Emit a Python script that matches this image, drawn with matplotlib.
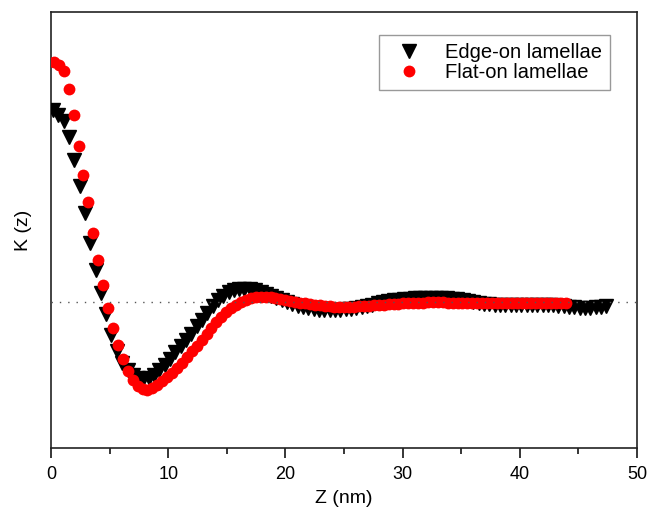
import matplotlib.pyplot as plt

plt.rcParams['font.family'] = ['Liberation Sans', 'DejaVu Sans']

# Edge-on lamellae (black triangles)
edge_z = [0.17, 0.62, 1.08, 1.53, 1.99, 2.44, 2.89, 3.35, 3.80, 4.26,
          4.71, 5.16, 5.62, 6.07, 6.53, 6.98, 7.43, 7.89, 8.34, 8.80,
          9.25, 9.70, 10.16, 10.61, 11.07, 11.52, 11.97, 12.43, 12.88, 13.34,
          13.79, 14.24, 14.70, 15.15, 15.61, 16.06, 16.51, 16.97, 17.42, 17.88,
          18.33, 18.78, 19.24, 19.69, 20.15, 20.60, 21.05, 21.51, 21.96, 22.42,
          22.87, 23.32, 23.78, 24.23, 24.69, 25.14, 25.59, 26.05, 26.50, 26.96,
          27.41, 27.86, 28.32, 28.77, 29.23, 29.68, 30.13, 30.59, 31.04, 31.50,
          31.95, 32.40, 32.86, 33.31, 33.77, 34.22, 34.67, 35.13, 35.58, 36.04,
          36.49, 36.94, 37.40, 37.85, 38.31, 38.76, 39.21, 39.67, 40.12, 40.58,
          41.03, 41.48, 41.94, 42.39, 42.85, 43.30, 43.75, 44.21, 44.66, 45.12,
          45.57, 46.02, 46.48, 46.93, 47.39]
edge_k = [1.927, 1.877, 1.817, 1.657, 1.427, 1.167, 0.897, 0.597, 0.327, 0.097,
          -0.113, -0.323, -0.493, -0.613, -0.683, -0.733, -0.763, -0.773, -0.763, -0.733,
          -0.683, -0.633, -0.573, -0.503, -0.433, -0.373, -0.313, -0.233, -0.173, -0.103,
          -0.033, 0.027, 0.067, 0.102, 0.122, 0.132, 0.137, 0.132, 0.122, 0.107,
          0.087, 0.067, 0.042, 0.022, 0.002, -0.018, -0.033, -0.048, -0.058, -0.068,
          -0.073, -0.078, -0.078, -0.078, -0.073, -0.068, -0.063, -0.053, -0.043, -0.033,
          -0.023, -0.008, 0.002, 0.012, 0.022, 0.027, 0.032, 0.037, 0.042, 0.047,
          0.047, 0.047, 0.047, 0.047, 0.042, 0.037, 0.032, 0.027, 0.017, 0.007,
          -0.003, -0.013, -0.018, -0.023, -0.023, -0.023, -0.023, -0.023, -0.023, -0.023,
          -0.023, -0.023, -0.023, -0.023, -0.028, -0.033, -0.038, -0.043, -0.048, -0.053,
          -0.053, -0.053, -0.048, -0.043, -0.033]

# Flat-on lamellae (red circles)
flat_z = [0.25, 0.67, 1.09, 1.51, 1.93, 2.35, 2.77, 3.19, 3.61, 4.03,
          4.45, 4.87, 5.29, 5.71, 6.13, 6.55, 6.97, 7.39, 7.81, 8.23,
          8.65, 9.07, 9.49, 9.91, 10.33, 10.75, 11.17, 11.59, 12.01, 12.43,
          12.85, 13.27, 13.69, 14.11, 14.53, 14.95, 15.37, 15.79, 16.21, 16.63,
          17.05, 17.47, 17.89, 18.31, 18.73, 19.15, 19.57, 19.99, 20.41, 20.83,
          21.25, 21.67, 22.09, 22.51, 22.93, 23.35, 23.77, 24.19, 24.61, 25.03,
          25.45, 25.87, 26.29, 26.71, 27.13, 27.55, 27.97, 28.39, 28.81, 29.23,
          29.65, 30.07, 30.49, 30.91, 31.33, 31.75, 32.17, 32.59, 33.01, 33.43,
          33.85, 34.27, 34.69, 35.11, 35.53, 35.95, 36.37, 36.79, 37.21, 37.63,
          38.05, 38.47, 38.89, 39.31, 39.73, 40.15, 40.57, 40.99, 41.41, 41.83,
          42.25, 42.67, 43.09, 43.51, 43.93]
flat_k = [2.407, 2.377, 2.317, 2.137, 1.877, 1.567, 1.277, 1.007, 0.697, 0.427,
          0.177, -0.053, -0.253, -0.423, -0.573, -0.693, -0.783, -0.843, -0.873, -0.883,
          -0.863, -0.833, -0.793, -0.753, -0.713, -0.663, -0.613, -0.553, -0.493, -0.433,
          -0.373, -0.313, -0.253, -0.193, -0.143, -0.093, -0.053, -0.023, 0.007, 0.027,
          0.042, 0.052, 0.057, 0.057, 0.052, 0.047, 0.037, 0.027, 0.017, 0.007,
          -0.003, -0.008, -0.013, -0.023, -0.028, -0.033, -0.038, -0.043, -0.043, -0.043,
          -0.043, -0.043, -0.038, -0.033, -0.033, -0.028, -0.023, -0.023, -0.018, -0.013,
          -0.013, -0.008, -0.008, -0.003, -0.003, -0.003, 0.002, 0.002, 0.002, 0.002,
          -0.003, -0.003, -0.003, -0.003, -0.003, -0.008, -0.008, -0.008, -0.008, -0.008,
          -0.008, -0.008, -0.008, -0.008, -0.008, -0.008, -0.008, -0.008, -0.008, -0.008,
          -0.008, -0.008, -0.008, -0.008, -0.008]

fig = plt.figure(figsize=(6.48, 5.15), dpi=100)
ax = fig.add_axes([0.0787, 0.13, 0.9043, 0.8467])

ax.plot(edge_z, edge_k, linestyle='none', marker='v', markersize=10,
        color='black', label='Edge-on lamellae', zorder=3)
ax.plot(flat_z, flat_k, linestyle='none', marker='o', markersize=8.5,
        color='#ff0000', markeredgewidth=0, label='Flat-on lamellae', zorder=4)
ax.axhline(0, color='#555555', linestyle=(0, (1, 5)), linewidth=1.0, zorder=5)

ax.set_xlim(0, 50)
ax.set_ylim(-1.46, 2.907)
ax.set_xticks([0, 10, 20, 30, 40, 50])
ax.set_xticks([5, 15, 25, 35, 45], minor=True)
ax.set_yticks([])
ax.tick_params(axis='x', which='major', direction='out', length=7, width=1.1,
               labelsize=13, pad=6)
ax.tick_params(axis='x', which='minor', direction='out', length=4.5, width=1.1)
for s in ax.spines.values():
    s.set_linewidth(1.2)
    s.set_color('#222222')

ax.set_xlabel('Z (nm)', fontsize=14, labelpad=5)
ax.set_ylabel('K (z)', fontsize=14, labelpad=14)

leg = ax.legend(loc='upper right', bbox_to_anchor=(0.954, 0.947), borderaxespad=0,
                fontsize=14.5, numpoints=1, fancybox=False, handletextpad=0.7,
                handlelength=2.2, borderpad=0.4, labelspacing=0.05, framealpha=1)
leg.get_frame().set_edgecolor('#999999')
leg.get_frame().set_linewidth(1.0)

fig.savefig('out.png', dpi=100)
